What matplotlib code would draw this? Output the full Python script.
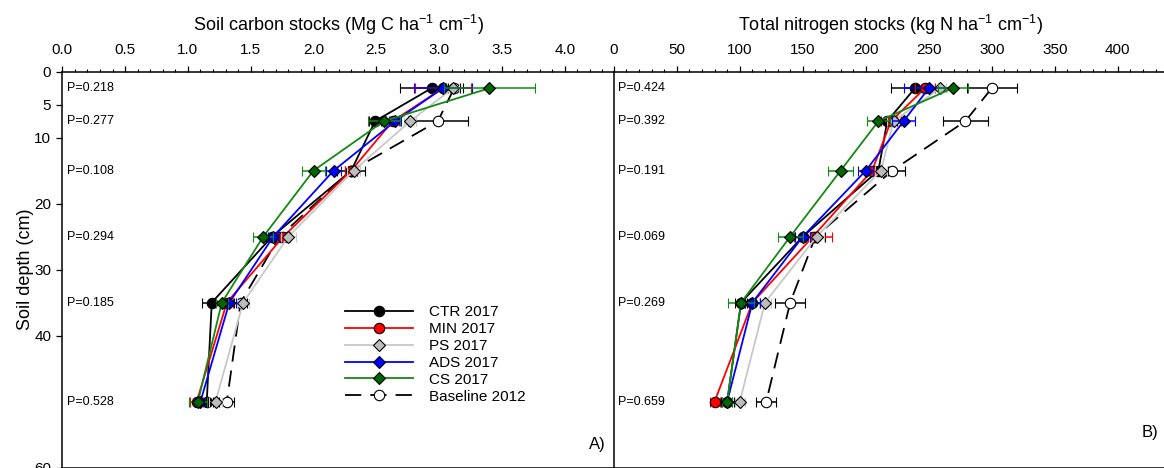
import numpy as np
import matplotlib
matplotlib.use("Agg")
import matplotlib.pyplot as plt
import matplotlib.transforms as mtransforms
from matplotlib.ticker import MultipleLocator

plt.rcParams['font.family'] = ['Liberation Sans', 'DejaVu Sans']
plt.rcParams['mathtext.fontset'] = 'custom'
plt.rcParams['mathtext.rm'] = 'Liberation Sans'
plt.rcParams['mathtext.it'] = 'Liberation Sans:italic'
plt.rcParams['mathtext.default'] = 'regular'

# profondeur moyenne de chaque couche (cm)
depth = [2.5, 7.5, 15, 25, 35, 50]
treatments = ['CTR 2017', 'MIN 2017', 'PS 2017', 'ADS 2017', 'CS 2017', 'Baseline 2012']

# stocks de carbone (Mg C ha-1 cm-1) et erreurs standard
c_ctr = [2.94, 2.49, 2.30, 1.67, 1.19, 1.15]
c_min = [3.03, 2.63, 2.30, 1.76, 1.31, 1.07]
c_ps = [3.11, 2.77, 2.32, 1.80, 1.44, 1.22]
c_ads = [3.03, 2.65, 2.16, 1.68, 1.33, 1.10]
c_cs = [3.40, 2.56, 2.00, 1.60, 1.27, 1.08]
c_base = [3.12, 2.99, 2.30, 1.73, 1.42, 1.31]

c_ctr_se = [0.25, 0.05, 0.11, 0.05, 0.08, 0.05]
c_min_se = [0.22, 0.05, 0.05, 0.05, 0.05, 0.05]
c_ps_se = [0.05, 0.05, 0.05, 0.06, 0.05, 0.05]
c_ads_se = [0.23, 0.05, 0.06, 0.04, 0.05, 0.04]
c_cs_se = [0.36, 0.13, 0.09, 0.08, 0.05, 0.07]
c_base_se = [0.05, 0.24, 0.05, 0.05, 0.05, 0.06]

# stocks d'azote total (kg N ha-1 cm-1) et erreurs standard
n_ctr = [239, 217, 210, 150, 101, 90]
n_min = [247, 220, 205, 158, 110, 80]
n_ps = [259, 222, 212, 161, 120, 100]
n_ads = [250, 230, 200, 150, 110, 90]
n_cs = [269, 210, 180, 140, 101, 90]
n_base = [300, 279, 221, 160, 140, 121]

n_ctr_se = [19, 8, 8, 6, 5, 5]
n_min_se = [8, 8, 6, 15, 6, 4]
n_ps_se = [5, 5, 5, 6, 5, 4]
n_ads_se = [20, 9, 6, 6, 6, 4]
n_cs_se = [12, 9, 10, 10, 10, 4]
n_base_se = [20, 18, 10, 8, 12, 8]

p_c = ['P=0.218', 'P=0.277', 'P=0.108', 'P=0.294', 'P=0.185', 'P=0.528']
p_n = ['P=0.424', 'P=0.392', 'P=0.191', 'P=0.069', 'P=0.269', 'P=0.659']

# style de chaque traitement : couleur ligne, marqueur, remplissage, taille, zorder
styles = {
    'CTR 2017': dict(color='black', marker='o', mfc='black', ms=7.5, z=3),
    'MIN 2017': dict(color='#ff0000', marker='o', mfc='#ff0000', ms=7.5, z=4),
    'PS 2017': dict(color='#c8c8c8', marker='D', mfc='#bdbdbd', ms=6.3, z=5),
    'ADS 2017': dict(color='#0000ff', marker='D', mfc='#0000ff', ms=6.3, z=6),
    'CS 2017': dict(color='#138a13', marker='D', mfc='#006400', ms=6.3, z=7),
    'Baseline 2012': dict(color='black', marker='o', mfc='white', ms=7.5, z=2),
}


def draw_panel(ax, values, errors, pvals):
    handles = []
    for name, vals, err in zip(treatments, values, errors):
        st = styles[name]
        ls = (0, (9, 5)) if name == 'Baseline 2012' else '-'
        cont = ax.errorbar(vals, depth, xerr=err, color=st['color'], ecolor=st['color'],
                           linestyle=ls, lw=1.3, marker=st['marker'], ms=st['ms'],
                           mfc=st['mfc'], mec='black', mew=0.8, elinewidth=1.1,
                           capsize=3.3, capthick=1.1, zorder=st['z'])
        handles.append(cont.lines[0])
    trans = mtransforms.blended_transform_factory(ax.transAxes, ax.transData)
    for d, p in zip(depth, pvals):
        ax.text(0.008, d, p, transform=trans, fontsize=9, va='center', ha='left')
    ax.set_ylim(60, 0)
    ax.xaxis.tick_top()
    ax.xaxis.set_label_position('top')
    ax.tick_params(axis='x', which='major', direction='out', length=4.5, width=0.9,
                   labelsize=11, pad=6)
    ax.tick_params(axis='x', which='minor', direction='out', length=2.5, width=0.8)
    for s in ax.spines.values():
        s.set_linewidth(1.1)
    return handles


fig = plt.figure(figsize=(11.64, 4.68), dpi=100)
W, H = 1164.0, 468.0
y0 = 1 - 467.5 / H
h = (467.5 - 71.7) / H
ax1 = fig.add_axes([62.3 / W, y0, (613.8 - 62.3) / W, h])
ax2 = fig.add_axes([613.8 / W, y0, (1168 - 613.8) / W, h])

handles = draw_panel(ax1, [c_ctr, c_min, c_ps, c_ads, c_cs, c_base],
                     [c_ctr_se, c_min_se, c_ps_se, c_ads_se, c_cs_se, c_base_se], p_c)
draw_panel(ax2, [n_ctr, n_min, n_ps, n_ads, n_cs, n_base],
           [n_ctr_se, n_min_se, n_ps_se, n_ads_se, n_cs_se, n_base_se], p_n)

# panneau A : carbone
ax1.set_xlim(0, (613.8 - 62.3) / 125.6)
ax1.set_xticks(np.arange(0, 4.01, 0.5))
ax1.set_xticklabels([f'{v:.1f}' for v in np.arange(0, 4.01, 0.5)])
ax1.xaxis.set_minor_locator(MultipleLocator(0.1))
ax1.set_yticks([0, 5, 10, 20, 30, 40, 60])
ax1.tick_params(axis='y', direction='out', length=4.5, width=0.9, labelsize=11)
ax1.spines['right'].set_visible(False)
ax1.set_xlabel('Soil carbon stocks (Mg C ha$^{-1}$ cm$^{-1}$)', fontsize=13, labelpad=9)
ax1.set_ylabel('Soil depth (cm)', fontsize=13, labelpad=0)
ax1.text(0.985, 0.04, 'A)', transform=ax1.transAxes, fontsize=12, ha='right', va='bottom')

ax1.legend(handles, treatments, loc='upper left', bbox_to_anchor=(0.513, 0.41),
           frameon=False, fontsize=11, numpoints=1, handlelength=4.45,
           handletextpad=1.05, labelspacing=0.19, borderpad=0, borderaxespad=0)

# panneau B : azote
ax2.set_xlim(0, (1168 - 613.8) / 1.26)
ax2.set_xticks(np.arange(0, 401, 50))
ax2.xaxis.set_minor_locator(MultipleLocator(10))
ax2.tick_params(axis='y', left=False, labelleft=False)
ax2.set_xlabel('Total nitrogen stocks (kg N ha$^{-1}$ cm$^{-1}$)', fontsize=13, labelpad=9)
fig.text(1158 / W, 1 - 440 / H, 'B)', fontsize=12, ha='right', va='bottom')

fig.savefig('out.png', dpi=100)
